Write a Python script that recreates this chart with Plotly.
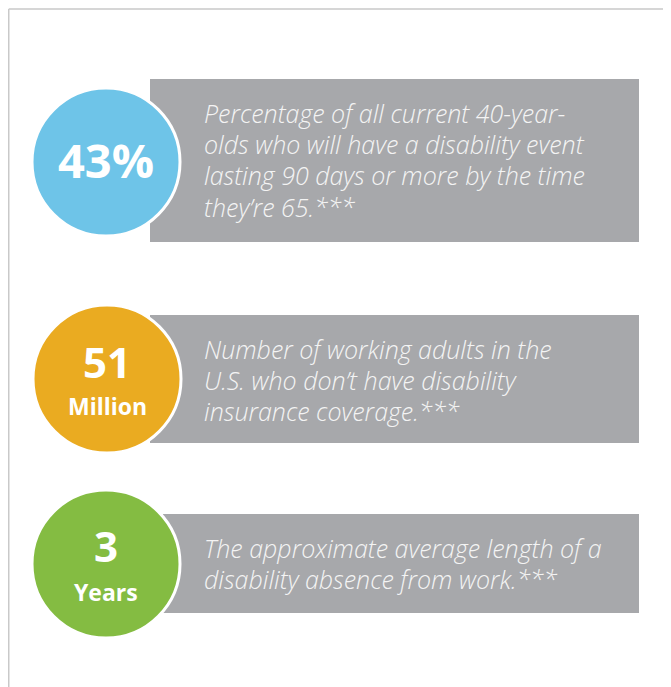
import plotly.graph_objects as go

# ---- data ----
stat_values = ["43%", "51", "3"]
stat_units = ["", "Million", "Years"]
descriptions = [
    ["Percentage of all current 40-year-", "olds who will have a disability event",
     "lasting 90 days or more by the time", "they’re 65.***"],
    ["Number of working adults in the", "U.S. who don’t have disability",
     "insurance coverage.***"],
    ["The approximate average length of a", "disability absence from work.***"],
]
circle_colors = ["#6ec4e8", "#eaab21", "#84bc42"]

# ---- layout geometry (screen pixels; page body has an 8px margin) ----
W, H = 671, 687
OFF = 8
circle_cx = [106, 107, 106]
circle_cy = [162, 379, 564]
circle_r = 74
rect_x0 = [150, 150, 163]
rect_x1 = [639, 639, 639]
rect_y0 = [79, 315, 514]
rect_y1 = [242, 443, 613]
text_top = [94, 330, 529]
value_mid = [[160], [361, 406], [545, 592]]

shapes = []
# outer frame (left edge drawn at the first visible pixel column)
shapes.append(dict(type="line", x0=OFF + 0.75, y0=9, x1=W + 20, y1=9,
                   line=dict(color="#c9c9c9", width=1.5), layer="below"))
shapes.append(dict(type="line", x0=OFF + 0.75, y0=9, x1=OFF + 0.75, y1=H + 20,
                   line=dict(color="#c9c9c9", width=1.5), layer="below"))

annotations = []
for i in range(3):
    shapes.append(dict(type="rect", x0=rect_x0[i], x1=rect_x1[i], y0=rect_y0[i], y1=rect_y1[i],
                       fillcolor="#a7a8ab", line=dict(width=0), layer="above"))
    shapes.append(dict(type="circle", x0=circle_cx[i] - circle_r, x1=circle_cx[i] + circle_r,
                       y0=circle_cy[i] - circle_r, y1=circle_cy[i] + circle_r,
                       fillcolor=circle_colors[i], line=dict(color="white", width=3), layer="above"))
    desc = "<br>".join('<span style="font-size:25px">' + ln + "</span>" for ln in descriptions[i])
    annotations.append(dict(x=202, y=text_top[i], xref="x", yref="y", xanchor="left", yanchor="top",
                            text=desc, showarrow=False, align="left",
                            font=dict(family="Open Sans", size=24, color="#f4f4f4",
                                      style="italic", weight=300)))
    if stat_units[i]:
        annotations.append(dict(x=circle_cx[i], y=value_mid[i][0], xref="x", yref="y",
                                text="<b>" + stat_values[i] + "</b>", showarrow=False,
                                xanchor="center", yanchor="middle",
                                font=dict(family="Open Sans", size=42, color="white")))
        annotations.append(dict(x=circle_cx[i], y=value_mid[i][1], xref="x", yref="y",
                                text="<b>" + stat_units[i] + "</b>", showarrow=False,
                                xanchor="center", yanchor="middle",
                                font=dict(family="Open Sans", size=23, color="white")))
    else:
        annotations.append(dict(x=circle_cx[i], y=value_mid[i][0], xref="x", yref="y",
                                text="<b>" + stat_values[i] + "</b>", showarrow=False,
                                xanchor="center", yanchor="middle",
                                font=dict(family="Open Sans", size=47, color="white")))

fig = go.Figure()
fig.update_layout(
    width=W, height=H,
    margin=dict(l=0, r=0, t=0, b=0),
    paper_bgcolor="white", plot_bgcolor="white",
    xaxis=dict(range=[OFF, W + OFF], visible=False, fixedrange=True),
    yaxis=dict(range=[H + OFF, OFF], visible=False, fixedrange=True),
    shapes=shapes, annotations=annotations, showlegend=False,
)
fig.write_html("out.html")
